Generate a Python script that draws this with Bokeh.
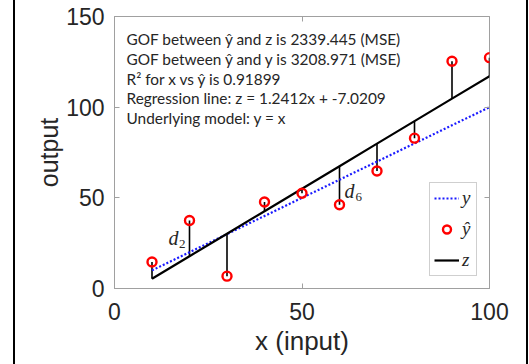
import numpy as np
from bokeh.plotting import figure
from bokeh.models import Range1d, Label, Legend, LegendItem, LinearAxis, FixedTicker
from bokeh.embed import file_html
from bokeh.resources import INLINE

# ---- data ----
x_vals = [10, 20, 30, 40, 50, 60, 70, 80, 90, 100]
y_hat = [14.6, 37.5, 6.8, 47.7, 52.5, 46.2, 64.8, 82.9, 125.3, 127.3]
slope = 1.2412
intercept = -7.0209
x_ticks = [0, 50, 100]
y_ticks = [0, 50, 100, 150]
info_lines = [
    "GOF between ŷ and z is 2339.445 (MSE)",
    "GOF between ŷ and y is 3208.971 (MSE)",
    "R² for x vs ŷ is 0.91899",
    "Regression line: z = 1.2412x + -7.0209",
    "Underlying model: y = x",
]
legend_labels = ["y", "ŷ", "z"]
d_labels = [("d", "2", 1), ("d", "6", 5)]  # (symbol, subscript, index)

x_arr = np.array(x_vals, dtype=float)
yh_arr = np.array(y_hat, dtype=float)
z_arr = slope * x_arr + intercept

TXT = "#262626"
BOX = "#a0a0a0"

p = figure(frame_width=375, frame_height=272,
           x_range=Range1d(0, 100), y_range=Range1d(0, 150),
           output_backend="svg", toolbar_location=None,
           min_border_left=99, min_border_right=37,
           min_border_top=16, min_border_bottom=76)
p.styles = {"margin-left": "13px", "border-left": "2px solid black",
            "border-right": "2px solid black"}
p.grid.visible = False
p.outline_line_color = BOX
p.background_fill_color = "white"

for ax in (p.xaxis[0], p.yaxis[0]):
    ax.major_tick_in = 5
    ax.major_tick_out = 0
    ax.minor_tick_line_color = None
    ax.axis_line_color = BOX
    ax.major_tick_line_color = BOX
    ax.major_label_text_font = "Liberation Sans"
    ax.major_label_text_font_size = "23px"
    ax.major_label_text_color = TXT
    ax.axis_label_text_font = "Liberation Sans"
    ax.axis_label_text_font_style = "normal"
    ax.axis_label_text_color = TXT

p.xaxis.axis_label_text_font_size = "26px"
p.yaxis.axis_label_text_font_size = "25px"
p.xaxis.ticker = FixedTicker(ticks=x_ticks)
p.yaxis.ticker = FixedTicker(ticks=y_ticks)
p.xaxis.axis_label = "x (input)"
p.yaxis.axis_label = "output"
p.xaxis.major_label_standoff = 14
p.xaxis.axis_label_standoff = 3
p.yaxis.major_label_standoff = 10
p.yaxis.axis_label_standoff = 0

for loc, tk in (("above", x_ticks), ("right", y_ticks)):
    a = LinearAxis(ticker=FixedTicker(ticks=tk), major_label_text_font_size="0px",
                   major_label_text_color=None,
                   axis_line_color=None, major_tick_in=5, major_tick_out=0,
                   minor_tick_line_color=None, major_tick_line_color=BOX)
    p.add_layout(a, loc)

# residual segments
p.segment(x0=x_arr, y0=yh_arr, x1=x_arr, y1=z_arr, line_color="black", line_width=1.6)
# underlying model y = x
r_y = p.line(x_arr, x_arr, line_color="#1a1aff", line_width=2.2, line_dash="2 2")
# regression line
r_z = p.line(x_arr, z_arr, line_color="black", line_width=2.2)
# observations
r_h = p.scatter(x_arr, yh_arr, marker="circle", size=9, fill_color=None,
                line_color="#ff0000", line_width=2.4)

# info text
y0 = 137.5
dy = 10.9
for i, t in enumerate(info_lines):
    p.add_layout(Label(x=3.2, y=y0 - i * dy, text=t, text_font="Lato",
                       text_font_size="15.4px", text_color=TXT,
                       text_baseline="middle", text_align="left"))

# d labels
offsets = {1: (-11, 0), 5: (5, -6)}
for sym, sub, idx in d_labels:
    xm = x_arr[idx]
    ym = (yh_arr[idx] + z_arr[idx]) / 2
    ox, oy = offsets[idx]
    if ox < 0:
        p.add_layout(Label(x=xm, y=ym, x_offset=ox, y_offset=oy, text=sym,
                           text_font="Liberation Serif", text_font_style="italic",
                           text_font_size="20px", text_color=TXT,
                           text_align="right", text_baseline="middle"))
        p.add_layout(Label(x=xm, y=ym, x_offset=ox + 7, y_offset=oy - 6, text=sub,
                           text_font="Liberation Serif", text_font_size="13px",
                           text_color=TXT, text_align="right", text_baseline="middle"))
    else:
        p.add_layout(Label(x=xm, y=ym, x_offset=ox, y_offset=oy, text=sym,
                           text_font="Liberation Serif", text_font_style="italic",
                           text_font_size="20px", text_color=TXT,
                           text_align="left", text_baseline="middle"))
        p.add_layout(Label(x=xm, y=ym, x_offset=ox + 11, y_offset=oy - 6, text=sub,
                           text_font="Liberation Serif", text_font_size="13px",
                           text_color=TXT, text_align="left", text_baseline="middle"))

legend = Legend(items=[LegendItem(label=legend_labels[0], renderers=[r_y]),
                       LegendItem(label=legend_labels[1], renderers=[r_h]),
                       LegendItem(label=legend_labels[2], renderers=[r_z])],
                location=(315, 12))
legend.label_text_font = "Liberation Serif"
legend.label_text_font_style = "italic"
legend.label_text_font_size = "19px"
legend.label_text_color = TXT
legend.label_height = 20
legend.label_width = 10
legend.glyph_height = 20
legend.glyph_width = 25
legend.label_standoff = 3
legend.spacing = 9
legend.padding = 4
legend.margin = 0
legend.border_line_color = BOX
legend.background_fill_alpha = 1
p.add_layout(legend)

open("out.html", "w").write(file_html(p, INLINE))
